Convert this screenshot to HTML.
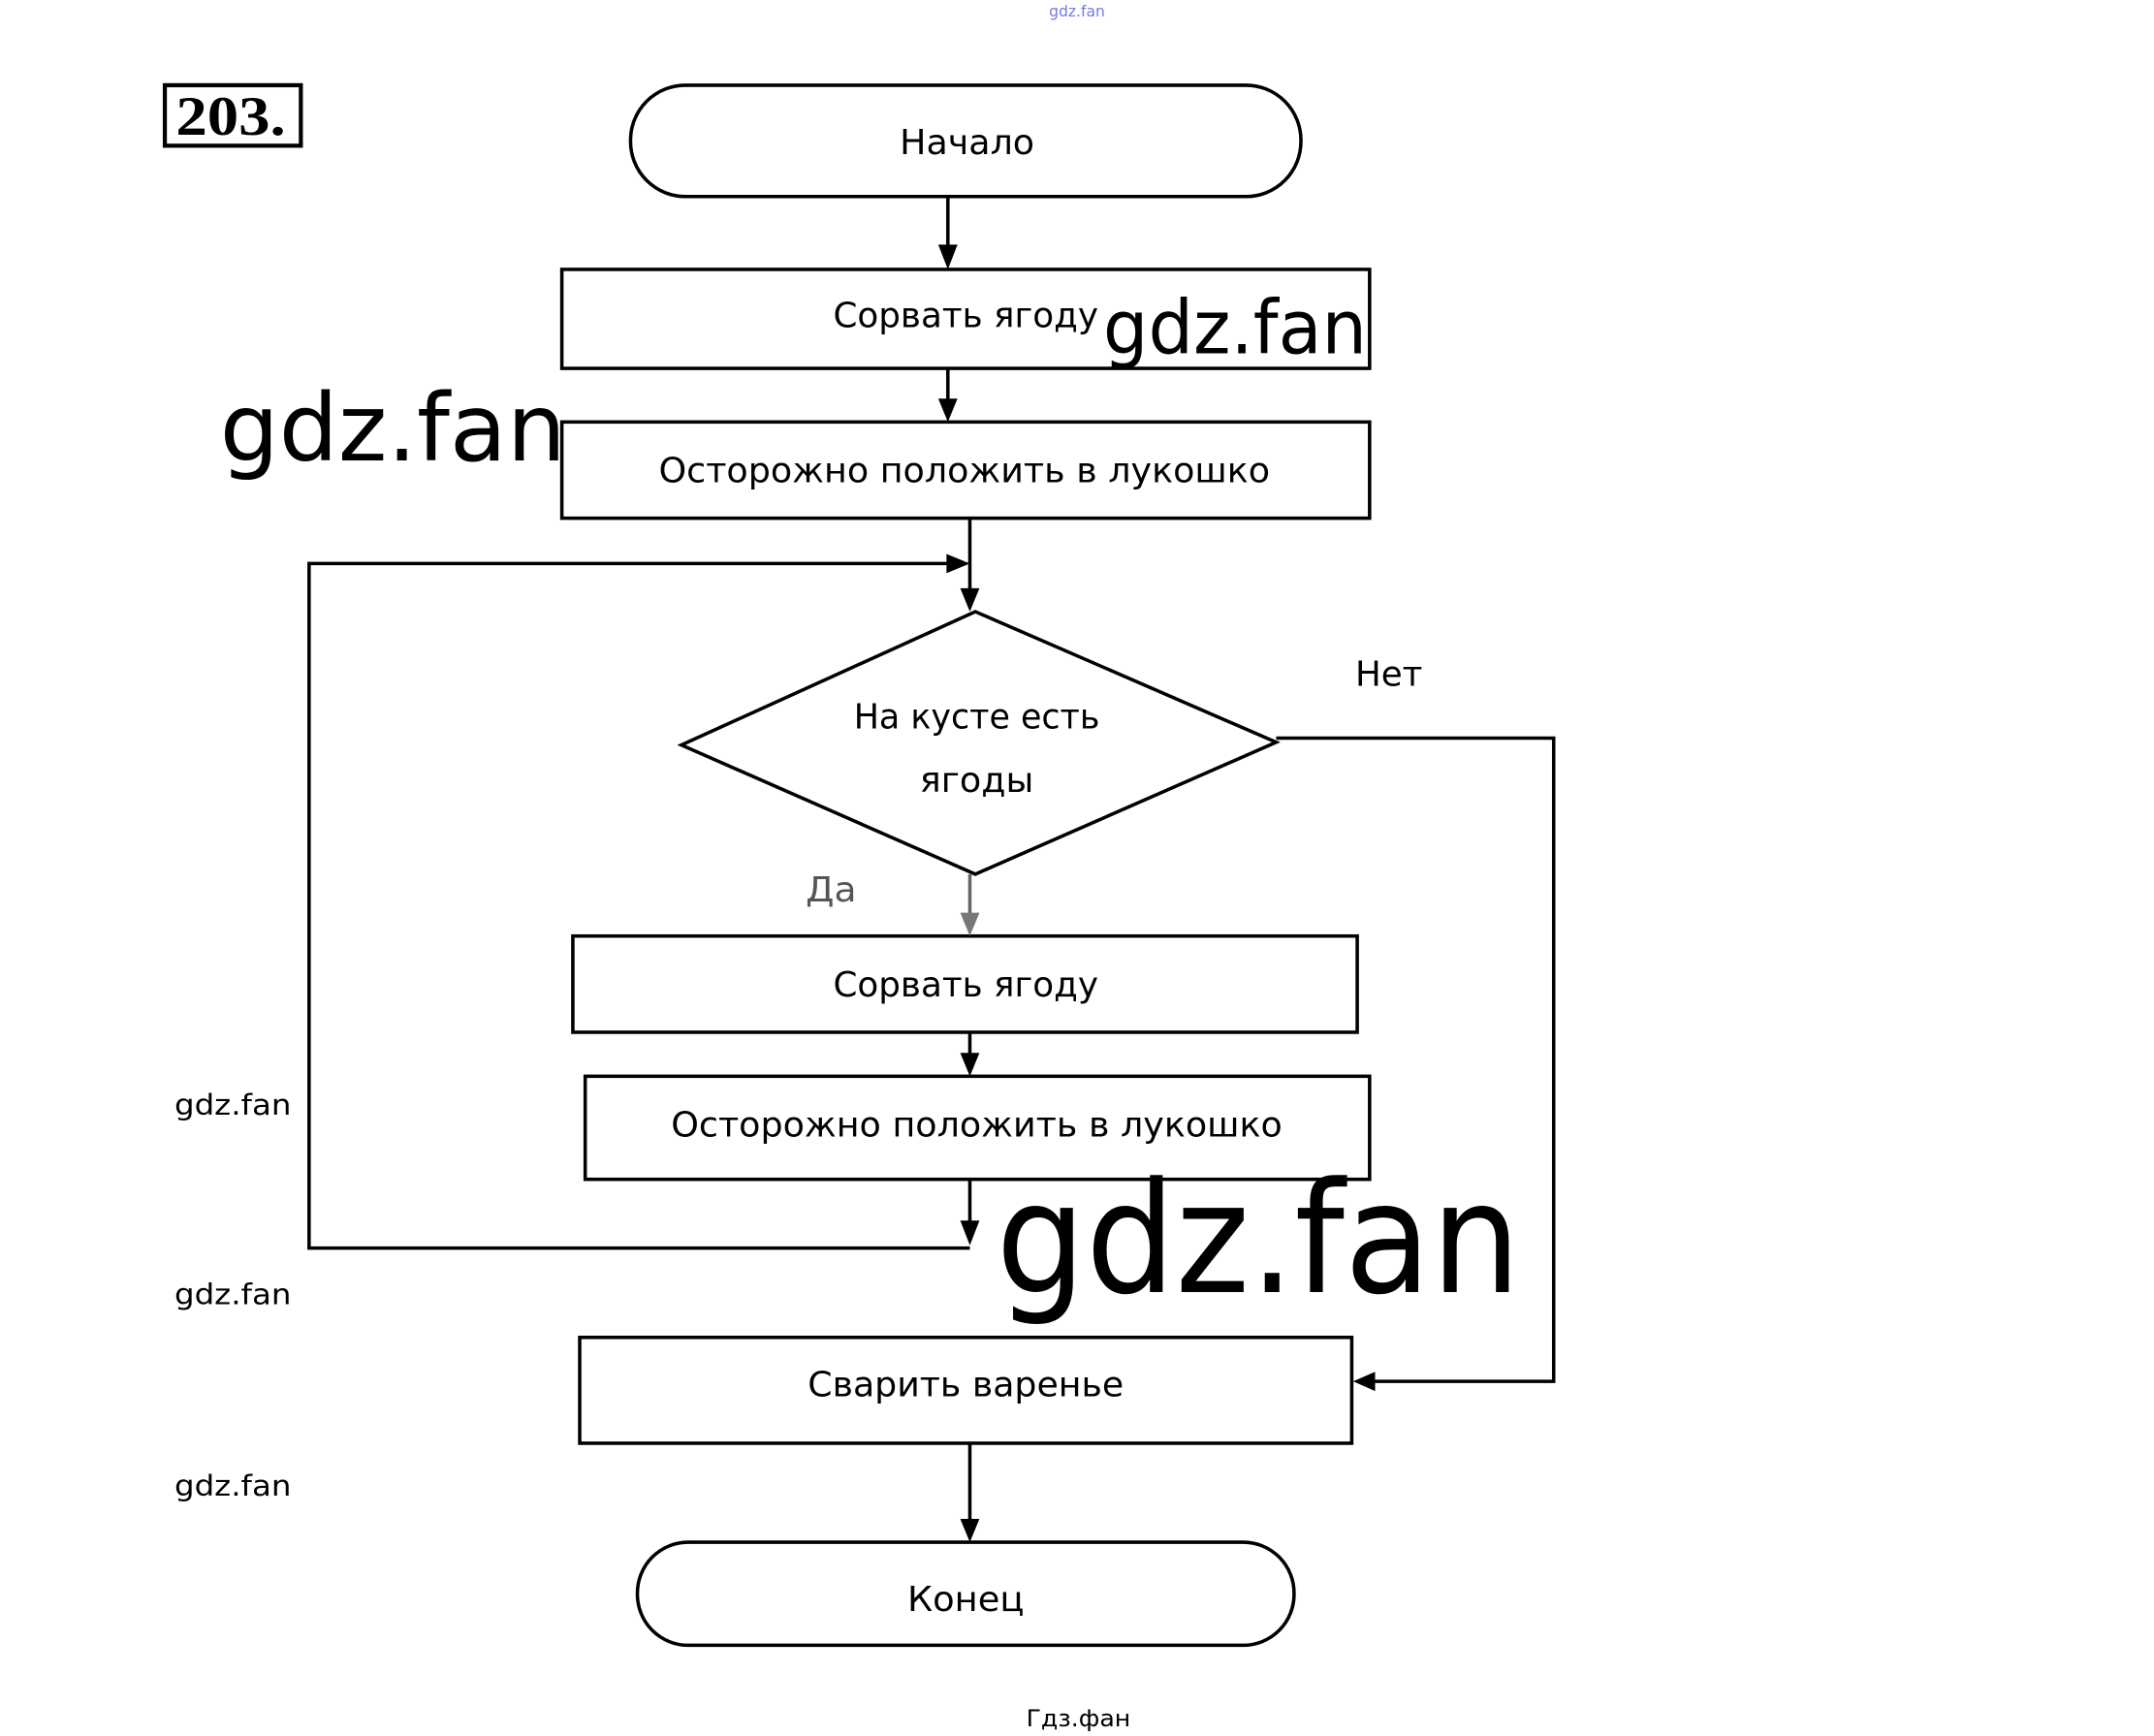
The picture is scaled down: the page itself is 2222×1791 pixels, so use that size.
<!DOCTYPE html>
<html><head><meta charset="utf-8"><style>html,body{margin:0;padding:0;background:#fff}svg{display:block}</style></head>
<body>
<svg width="2222" height="1791" viewBox="0 0 1568 1263" preserveAspectRatio="none" xmlns="http://www.w3.org/2000/svg" font-family="'DejaVu Sans','Liberation Sans',sans-serif">
<g fill="none" stroke="#000" stroke-width="2.5">
<text x="784" y="12" font-size="11" fill="#7a7adc" stroke="none" text-anchor="middle">gdz.fan</text>
<rect x="120" y="62" width="99" height="44" stroke-width="3"/>
<rect x="459" y="62" width="488" height="81" rx="40"/>
<line x1="690" y1="143" x2="690" y2="180"/>
<rect x="409" y="196" width="588" height="72"/>
<line x1="690" y1="268" x2="690" y2="292"/>
<rect x="409" y="307" width="588" height="70"/>
<polyline points="706,377 706,430"/>
<polyline points="706,908 225,908 225,410 690,410"/>
<polygon points="496,542 710,445 929,540 710,636"/>
<polyline points="929,537 1131,537 1131,1005 1000,1005"/>
<line x1="706" y1="636" x2="706" y2="666" stroke="#666"/>
<rect x="417" y="681" width="571" height="70"/>
<line x1="706" y1="751" x2="706" y2="768"/>
<rect x="426" y="783" width="571" height="75"/>
<line x1="706" y1="858" x2="706" y2="890"/>
<rect x="422" y="973" width="562" height="77"/>
<line x1="706" y1="1050" x2="706" y2="1107"/>
<rect x="464" y="1122" width="478" height="75" rx="37"/>
</g>
<g fill="#000">
<polygon points="683,178 697,178 690,196"/>
<polygon points="683,290 697,290 690,307"/>
<polygon points="699,428 713,428 706,445"/>
<polygon points="689,403 689,417 706,410"/>
<polygon points="699,664 713,664 706,681" fill="#777"/>
<polygon points="699,766 713,766 706,783"/>
<polygon points="699,888 713,888 706,906"/>
<polygon points="1001,998 1001,1012 985,1005"/>
<polygon points="699,1105 713,1105 706,1122"/>
</g>
<g fill="#000" font-size="25" text-anchor="middle">
<text x="168" y="98" font-family="'Liberation Serif',serif" font-weight="bold" font-size="40" textLength="80" lengthAdjust="spacingAndGlyphs">203.</text>
<text x="704" y="112" textLength="98" lengthAdjust="spacingAndGlyphs">Начало</text>
<text x="703" y="238" textLength="193" lengthAdjust="spacingAndGlyphs">Сорвать ягоду</text>
<text x="702" y="351" textLength="445" lengthAdjust="spacingAndGlyphs">Осторожно положить в лукошко</text>
<text x="711" y="530" textLength="179" lengthAdjust="spacingAndGlyphs">На кусте есть</text>
<text x="711" y="576" textLength="83" lengthAdjust="spacingAndGlyphs">ягоды</text>
<text x="1011" y="499" textLength="49" lengthAdjust="spacingAndGlyphs">Нет</text>
<text x="605" y="656" fill="#555" textLength="37" lengthAdjust="spacingAndGlyphs">Да</text>
<text x="703" y="725" textLength="193" lengthAdjust="spacingAndGlyphs">Сорвать ягоду</text>
<text x="711" y="827" textLength="445" lengthAdjust="spacingAndGlyphs">Осторожно положить в лукошко</text>
<text x="703" y="1016" textLength="230" lengthAdjust="spacingAndGlyphs">Сварить варенье</text>
<text x="703" y="1172" textLength="85" lengthAdjust="spacingAndGlyphs">Конец</text>
<text x="785" y="1256" font-size="17" textLength="76" lengthAdjust="spacingAndGlyphs">Гдз.фан</text>
</g>
<g fill="#000" font-family="'DejaVu Sans',sans-serif">
<text x="803" y="257" font-size="54" textLength="192" lengthAdjust="spacingAndGlyphs">gdz.fan</text>
<text x="160" y="335" font-size="68" textLength="252" lengthAdjust="spacingAndGlyphs">gdz.fan</text>
<text x="725" y="940" font-size="112" textLength="382" lengthAdjust="spacingAndGlyphs">gdz.fan</text>
<text x="127" y="811" font-size="21" textLength="85" lengthAdjust="spacingAndGlyphs">gdz.fan</text>
<text x="127" y="949" font-size="21" textLength="85" lengthAdjust="spacingAndGlyphs">gdz.fan</text>
<text x="127" y="1088" font-size="21" textLength="85" lengthAdjust="spacingAndGlyphs">gdz.fan</text>
</g>
</svg>
</body></html>
